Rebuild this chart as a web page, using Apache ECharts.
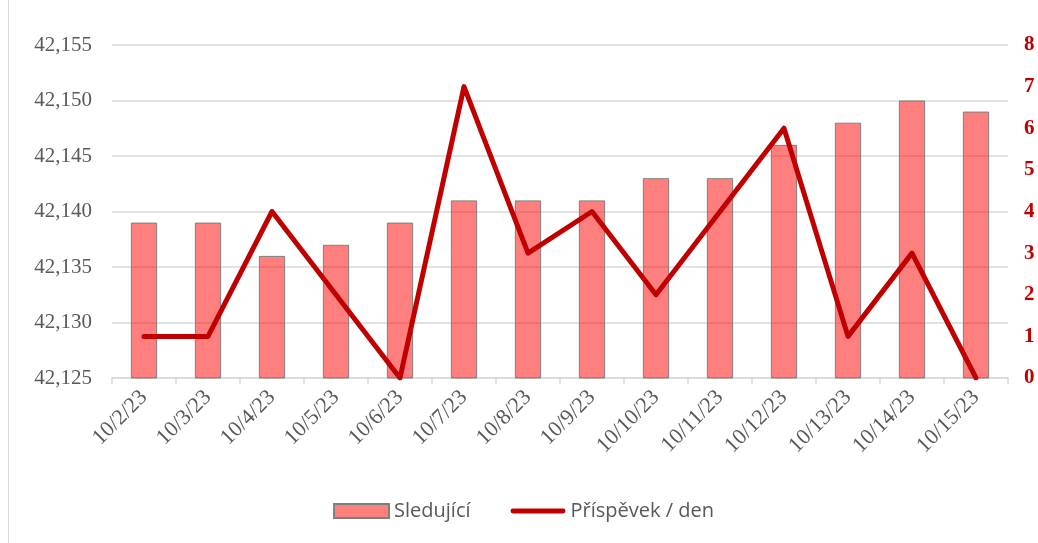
<!DOCTYPE html>
<html>
<head>
<meta charset="utf-8">
<script src="https://cdn.jsdelivr.net/npm/echarts@6/dist/echarts.min.js"></script>
<style>
  html, body { margin: 0; padding: 0; background: #fff; }
  #chart { height: 543px; box-sizing: border-box; border-left: 1px solid #d9d9d9; margin-left: 8px; width: 1030px; }
</style>
</head>
<body>
<div id="chart"></div>
<script>
const days = ['10/2/23', '10/3/23', '10/4/23', '10/5/23', '10/6/23', '10/7/23', '10/8/23',
  '10/9/23', '10/10/23', '10/11/23', '10/12/23', '10/13/23', '10/14/23', '10/15/23'];
const followers = [42139, 42139, 42136, 42137, 42139, 42141, 42141, 42141, 42143, 42143, 42146, 42148, 42150, 42149];
const postsPerDay = [1, 1, 4, 2, 0, 7, 3, 4, 2, 4, 6, 1, 3, 0];

let chart = echarts.init(document.getElementById('chart'));
chart.setOption({
  animation: false,
  grid: { left: 103, right: 30, top: 45, bottom: 165 },
  legend: {
    bottom: 17,
    left: 'center',
    itemGap: 40,
    itemWidth: 55,
    itemHeight: 14,
    textStyle: { fontFamily: 'Open Sans', fontSize: 20, color: '#595959' },
    data: [
      { name: 'Sledující', icon: 'rect' },
      { name: 'Příspěvek / den', icon: 'path://M2,0 L53,0 A2,2 0 0 1 53,5 L2,5 A2,2 0 0 1 2,0 Z' }
    ]
  },
  xAxis: {
    type: 'category',
    data: days,
    axisLine: { lineStyle: { color: '#d9d9d9', width: 1.5 } },
    axisTick: { show: true, length: 6, lineStyle: { color: '#d9d9d9', width: 1.5 } },
    axisLabel: {
      rotate: 45,
      color: '#595959',
      fontFamily: 'Liberation Serif',
      fontSize: 22,
      margin: 16
    }
  },
  yAxis: [
    {
      type: 'value',
      min: 42125,
      max: 42155,
      interval: 5,
      axisLine: { show: false },
      axisTick: { show: false },
      splitLine: { lineStyle: { color: '#d9d9d9', width: 1.5 } },
      axisLabel: {
        color: '#595959',
        fontFamily: 'Liberation Serif',
        fontSize: 21,
        margin: 20,
        formatter: v => v.toLocaleString('en-US')
      }
    },
    {
      type: 'value',
      min: 0,
      max: 8,
      interval: 1,
      axisLine: { show: false },
      axisTick: { show: false },
      splitLine: { show: false },
      axisLabel: {
        color: '#c00000',
        fontWeight: 'bold',
        fontFamily: 'Liberation Serif',
        fontSize: 21,
        margin: 16
      }
    }
  ],
  series: [
    {
      name: 'Sledující',
      type: 'bar',
      data: followers,
      barWidth: '41%',
      itemStyle: {
        color: 'rgba(255, 0, 0, 0.5)',
        borderColor: '#7f7f7f',
        borderWidth: 1
      }
    },
    {
      name: 'Příspěvek / den',
      type: 'line',
      yAxisIndex: 1,
      data: postsPerDay,
      symbol: 'none',
      lineStyle: { color: '#c00000', width: 5, cap: 'round', join: 'round' },
      itemStyle: { color: '#c00000' }
    }
  ]
});
</script>
</body>
</html>
